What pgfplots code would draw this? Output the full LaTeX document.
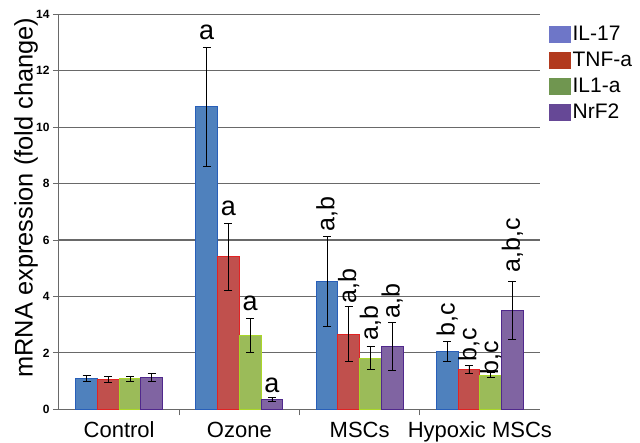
\documentclass[border=0pt]{standalone}
\usepackage{fontspec}
\setmainfont{Liberation Sans}
\usepackage{pgfplots}
\pgfplotsset{compat=1.18}
\definecolor{bblue}{RGB}{79,129,189}
\definecolor{bblueD}{RGB}{40,95,185}
\definecolor{bred}{RGB}{192,80,77}
\definecolor{bredD}{RGB}{225,35,35}
\definecolor{bgreen}{RGB}{155,187,89}
\definecolor{bgreenD}{RGB}{170,215,40}
\definecolor{bpurp}{RGB}{128,100,162}
\definecolor{bpurpD}{RGB}{80,40,140}
\definecolor{lblue}{RGB}{110,118,200}
\definecolor{lred}{RGB}{178,58,30}
\definecolor{lgreen}{RGB}{112,150,80}
\definecolor{lpurp}{RGB}{102,72,150}
\definecolor{gridc}{RGB}{105,105,105}
\pgfplotstableread{
x y e
0 1.10 0.11
1 10.72 2.10
2 4.53 1.60
3 2.05 0.35
}\ilseventeen
\pgfplotstableread{
x y e
0 1.05 0.10
1 5.40 1.20
2 2.66 0.97
3 1.41 0.15
}\tnfa
\pgfplotstableread{
x y e
0 1.08 0.08
1 2.63 0.60
2 1.81 0.40
3 1.21 0.08
}\ilonea
\pgfplotstableread{
x y e
0 1.12 0.14
1 0.35 0.08
2 2.22 0.86
3 3.51 1.03
}\nrftwo
\begin{document}
\begin{tikzpicture}
\path[use as bounding box] (-59pt,-32.7pt) rectangle (581pt,409.3pt);
\begin{axis}[
  scale only axis, width=481pt, height=395pt,
  xmin=-0.5, xmax=3.5, ymin=0, ymax=14,
  ytick={0,2,...,14},
  xtick={0.5,1.5,2.5}, xticklabels={},
  extra x ticks={0,1,2,3},
  extra x tick labels={Control,Ozone,MSCs,Hypoxic MSCs},
  extra x tick style={major tick length=0pt},
  axis x line*=bottom, axis y line*=left,
  axis line style={gridc, line width=1pt, -},
  ymajorgrids, grid style={gridc, line width=1.1pt},
  tick align=outside, major tick length=6pt,
  tick style={gridc, line width=1pt},
  /pgf/number format/assume math mode=true,
  yticklabel style={font=\fontsize{12}{14}\selectfont\bfseries},
  xticklabel style={font=\fontsize{22}{26}\selectfont, yshift=-9pt},
  ylabel={mRNA expression (fold change)},
  ylabel style={font=\fontsize{25.4}{29}\selectfont, at={(axis description cs:-0.0437,0.536)}, anchor=south, inner sep=0pt},
  ybar, bar width=21.75pt,
  error bars/error bar style={black, line width=0.9pt},
  error bars/error mark options={rotate=90, black, mark size=4pt, line width=0.9pt},
  legend style={at={(axis description cs:1.0187,0.975)}, anchor=north west, draw=none, fill=none,
    font=\fontsize{21}{25}\selectfont, inner sep=0pt, row sep=6pt},
  legend cell align=left,
]
\addplot[forget plot, bar shift=-32.6pt, fill=bblue, draw=bblueD, line width=0.9pt,
  error bars/.cd, y dir=both, y explicit] table[x=x, y=y, y error=e] {\ilseventeen};
\addplot[forget plot, bar shift=-10.9pt, fill=bred, draw=bredD, line width=0.9pt,
  error bars/.cd, y dir=both, y explicit] table[x=x, y=y, y error=e] {\tnfa};
\addplot[forget plot, bar shift=10.9pt, fill=bgreen, draw=bgreenD, line width=0.9pt,
  error bars/.cd, y dir=both, y explicit] table[x=x, y=y, y error=e] {\ilonea};
\addplot[forget plot, bar shift=32.6pt, fill=bpurp, draw=bpurpD, line width=0.9pt,
  error bars/.cd, y dir=both, y explicit] table[x=x, y=y, y error=e] {\nrftwo};
\addlegendimage{legend image code/.code={\fill[lblue] (0pt,-8pt) rectangle (21pt,8pt);}}
\addlegendentry{IL-17}
\addlegendimage{legend image code/.code={\fill[lred] (0pt,-8pt) rectangle (21pt,8pt);}}
\addlegendentry{TNF-a}
\addlegendimage{legend image code/.code={\fill[lgreen] (0pt,-8pt) rectangle (21pt,8pt);}}
\addlegendentry{IL1-a}
\addlegendimage{legend image code/.code={\fill[lpurp] (0pt,-8pt) rectangle (21pt,8pt);}}
\addlegendentry{NrF2}
% significance letters
\begin{scope}[every node/.style={font=\fontsize{27}{30}\selectfont, anchor=south, inner sep=1pt}]
\node at (axis cs:0.7287,13.05) {a};
\node at (axis cs:0.9096,6.80) {a};
\node at (axis cs:1.0904,3.45) {a};
\node at (axis cs:1.2713,0.55) {a};
\end{scope}
\begin{scope}[every node/.style={font=\fontsize{25}{28}\selectfont, rotate=90, anchor=west, inner sep=1pt}]
\node at (axis cs:1.7287,6.25) {a,b};
\node at (axis cs:1.9096,3.72) {a,b};
\node at (axis cs:2.0904,2.40) {a,b};
\node at (axis cs:2.2713,3.17) {a,b};
\node at (axis cs:2.7287,2.55) {b,c};
\node at (axis cs:2.9096,1.65) {b,c};
\node at (axis cs:3.0904,1.20) {b,c};
\node at (axis cs:3.2713,4.80) {a,b,c};
\end{scope}
\end{axis}
\end{tikzpicture}
\end{document}
